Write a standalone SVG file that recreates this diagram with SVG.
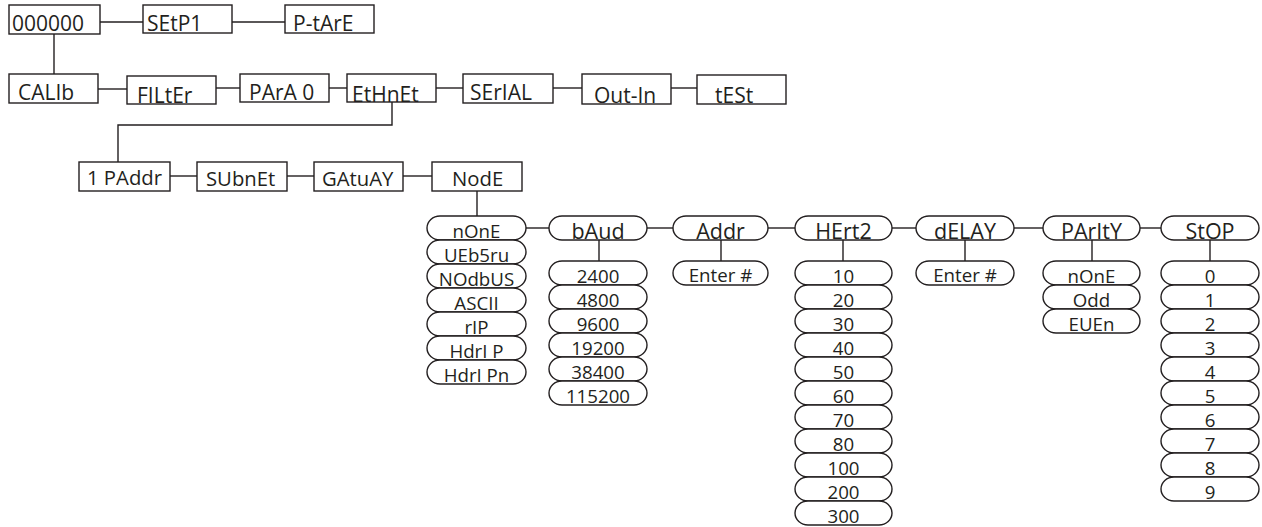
<svg xmlns="http://www.w3.org/2000/svg" width="1262" height="527" viewBox="0 0 1262 527">
<style>
rect{fill:#fff;stroke:#231f20;stroke-width:1.4}
.c line,.c path{stroke:#231f20;stroke-width:1.4;fill:none}
text{font-family:"Open Sans","Noto Sans",sans-serif;fill:#231f20}
.b{font-size:21px}
.m{font-size:20.3px}
.p{font-size:18.7px;text-anchor:middle}
.t{font-size:21.5px;text-anchor:middle}
</style>
<rect width="1262" height="527" style="fill:#fff;stroke:none"/>
<g class="c" id="connectors">
<line x1="100" y1="22" x2="143" y2="22"/>
<line x1="232" y1="22" x2="285" y2="22"/>
<line x1="54" y1="34" x2="54" y2="74"/>
<line x1="98" y1="89" x2="127" y2="89"/>
<line x1="216" y1="88" x2="240" y2="88"/>
<line x1="329" y1="88" x2="347" y2="88"/>
<line x1="436" y1="88" x2="463" y2="88"/>
<line x1="553" y1="88" x2="582" y2="88"/>
<line x1="671" y1="88" x2="697" y2="88"/>
<path d="M392 102V125H118V162"/>
<line x1="170" y1="176" x2="197" y2="176"/>
<line x1="287" y1="176" x2="314" y2="176"/>
<line x1="403" y1="176" x2="432" y2="176"/>
<line x1="477" y1="191" x2="477" y2="216"/>
<line x1="526" y1="228" x2="549" y2="228"/>
<line x1="647" y1="228" x2="673" y2="228"/>
<line x1="768" y1="228" x2="795" y2="228"/>
<line x1="892" y1="228" x2="916" y2="228"/>
<line x1="1014" y1="228" x2="1043" y2="228"/>
<line x1="1140" y1="228" x2="1161" y2="228"/>
<line x1="599" y1="240" x2="599" y2="261"/>
<line x1="721" y1="240" x2="721" y2="261"/>
<line x1="843" y1="240" x2="843" y2="261"/>
<line x1="965" y1="240" x2="965" y2="261"/>
<line x1="1092" y1="240" x2="1092" y2="261"/>
<line x1="1210" y1="240" x2="1210" y2="261"/>
</g>
<g id="n000000"><rect x="9" y="5" width="91" height="29"/><text class="b" x="12" y="31">000000</text></g>
<g id="nSEtP1"><rect x="143" y="5" width="89" height="28"/><text class="b" x="147" y="31">SEtP1</text></g>
<g id="nPtArE"><rect x="285" y="5" width="89" height="28"/><text class="b" x="293" y="31">P-tArE</text></g>
<g id="nCALIb"><rect x="9" y="74" width="89" height="29"/><text class="b" x="18" y="100">CALIb</text></g>
<g id="nFILtEr"><rect x="127" y="76" width="89" height="28"/><text class="b" x="137" y="103">FILtEr</text></g>
<g id="nPArA0"><rect x="240" y="74" width="89" height="28"/><text class="b" x="249" y="100">PArA 0</text></g>
<g id="nEtHnEt"><rect x="347" y="74" width="89" height="28"/><text class="b" x="352" y="102">EtHnEt</text></g>
<g id="nSErIAL"><rect x="463" y="74" width="90" height="29"/><text class="b" x="470" y="100">SErIAL</text></g>
<g id="nOutIn"><rect x="582" y="74" width="89" height="30"/><text class="b" x="594" y="103">Out-In</text></g>
<g id="ntESt"><rect x="697" y="75" width="89" height="29"/><text class="b" x="715" y="103">tESt</text></g>
<g id="n1PAddr"><rect x="79" y="162" width="91" height="29"/><text class="m" x="87" y="185">1 PAddr</text></g>
<g id="nSUbnEt"><rect x="197" y="162" width="90" height="29"/><text class="m" x="206" y="186">SUbnEt</text></g>
<g id="nGAtuAY"><rect x="314" y="162" width="89" height="29"/><text class="m" x="322" y="186">GAtuAY</text></g>
<g id="nNodE"><rect x="432" y="162" width="90" height="29"/><text class="m" x="452" y="186">NodE</text></g>
<g id="nodeOptions">
<rect x="427" y="216" width="99" height="24" rx="13" ry="12"/><text class="p" x="476.5" y="238">nOnE</text>
<rect x="427" y="240" width="99" height="24" rx="13" ry="12"/><text class="p" x="476.5" y="262">UEb5ru</text>
<rect x="427" y="264" width="99" height="24" rx="13" ry="12"/><text class="p" x="476.5" y="286">NOdbUS</text>
<rect x="427" y="288" width="99" height="24" rx="13" ry="12"/><text class="p" x="476.5" y="310">ASCII</text>
<rect x="427" y="312" width="99" height="24" rx="13" ry="12"/><text class="p" x="476.5" y="334">rIP</text>
<rect x="427" y="336" width="99" height="24" rx="13" ry="12"/><text class="p" x="476.5" y="358">HdrI P</text>
<rect x="427" y="360" width="99" height="24" rx="13" ry="12"/><text class="p" x="476.5" y="382">HdrI Pn</text>
</g>
<g id="nbAud"><rect x="549" y="216" width="98" height="24" rx="13" ry="12"/><text class="t" x="598" y="239">bAud</text></g>
<g id="baudOptions">
<rect x="549" y="261" width="98" height="24" rx="13" ry="12"/><text class="p" x="598" y="283">2400</text>
<rect x="549" y="285" width="98" height="24" rx="13" ry="12"/><text class="p" x="598" y="307">4800</text>
<rect x="549" y="309" width="98" height="24" rx="13" ry="12"/><text class="p" x="598" y="331">9600</text>
<rect x="549" y="333" width="98" height="24" rx="13" ry="12"/><text class="p" x="598" y="355">19200</text>
<rect x="549" y="357" width="98" height="24" rx="13" ry="12"/><text class="p" x="598" y="379">38400</text>
<rect x="549" y="381" width="98" height="24" rx="13" ry="12"/><text class="p" x="598" y="403">115200</text>
</g>
<g id="nAddr"><rect x="673" y="216" width="95" height="24" rx="13" ry="12"/><text class="t" x="720.5" y="239">Addr</text></g>
<g id="addrEnter"><rect x="673" y="261" width="95" height="24" rx="13" ry="12"/><text class="p" x="720.5" y="282">Enter #</text></g>
<g id="nHErt2"><rect x="795" y="216" width="97" height="24" rx="13" ry="12"/><text class="t" x="843.5" y="239">HErt2</text></g>
<g id="hertzOptions">
<rect x="795" y="261" width="97" height="24" rx="13" ry="12"/><text class="p" x="843.5" y="283">10</text>
<rect x="795" y="285" width="97" height="24" rx="13" ry="12"/><text class="p" x="843.5" y="307">20</text>
<rect x="795" y="309" width="97" height="24" rx="13" ry="12"/><text class="p" x="843.5" y="331">30</text>
<rect x="795" y="333" width="97" height="24" rx="13" ry="12"/><text class="p" x="843.5" y="355">40</text>
<rect x="795" y="357" width="97" height="24" rx="13" ry="12"/><text class="p" x="843.5" y="379">50</text>
<rect x="795" y="381" width="97" height="24" rx="13" ry="12"/><text class="p" x="843.5" y="403">60</text>
<rect x="795" y="405" width="97" height="24" rx="13" ry="12"/><text class="p" x="843.5" y="427">70</text>
<rect x="795" y="429" width="97" height="24" rx="13" ry="12"/><text class="p" x="843.5" y="451">80</text>
<rect x="795" y="453" width="97" height="24" rx="13" ry="12"/><text class="p" x="843.5" y="475">100</text>
<rect x="795" y="477" width="97" height="24" rx="13" ry="12"/><text class="p" x="843.5" y="499">200</text>
<rect x="795" y="501" width="97" height="24" rx="13" ry="12"/><text class="p" x="843.5" y="523">300</text>
</g>
<g id="ndELAY"><rect x="916" y="216" width="98" height="24" rx="13" ry="12"/><text class="t" x="965" y="239">dELAY</text></g>
<g id="delayEnter"><rect x="916" y="261" width="98" height="24" rx="13" ry="12"/><text class="p" x="965" y="282">Enter #</text></g>
<g id="nPArItY"><rect x="1043" y="216" width="97" height="24" rx="13" ry="12"/><text class="t" x="1091.5" y="239">PArItY</text></g>
<g id="parityOptions">
<rect x="1043" y="261" width="97" height="24" rx="13" ry="12"/><text class="p" x="1091.5" y="283">nOnE</text>
<rect x="1043" y="285" width="97" height="24" rx="13" ry="12"/><text class="p" x="1091.5" y="307">Odd</text>
<rect x="1043" y="309" width="97" height="24" rx="13" ry="12"/><text class="p" x="1091.5" y="331">EUEn</text>
</g>
<g id="nStOP"><rect x="1161" y="216" width="98" height="24" rx="13" ry="12"/><text class="t" x="1210" y="239">StOP</text></g>
<g id="stopOptions">
<rect x="1161" y="261" width="98" height="24" rx="13" ry="12"/><text class="p" x="1210" y="283">0</text>
<rect x="1161" y="285" width="98" height="24" rx="13" ry="12"/><text class="p" x="1210" y="307">1</text>
<rect x="1161" y="309" width="98" height="24" rx="13" ry="12"/><text class="p" x="1210" y="331">2</text>
<rect x="1161" y="333" width="98" height="24" rx="13" ry="12"/><text class="p" x="1210" y="355">3</text>
<rect x="1161" y="357" width="98" height="24" rx="13" ry="12"/><text class="p" x="1210" y="379">4</text>
<rect x="1161" y="381" width="98" height="24" rx="13" ry="12"/><text class="p" x="1210" y="403">5</text>
<rect x="1161" y="405" width="98" height="24" rx="13" ry="12"/><text class="p" x="1210" y="427">6</text>
<rect x="1161" y="429" width="98" height="24" rx="13" ry="12"/><text class="p" x="1210" y="451">7</text>
<rect x="1161" y="453" width="98" height="24" rx="13" ry="12"/><text class="p" x="1210" y="475">8</text>
<rect x="1161" y="477" width="98" height="24" rx="13" ry="12"/><text class="p" x="1210" y="499">9</text>
</g>
</svg>
